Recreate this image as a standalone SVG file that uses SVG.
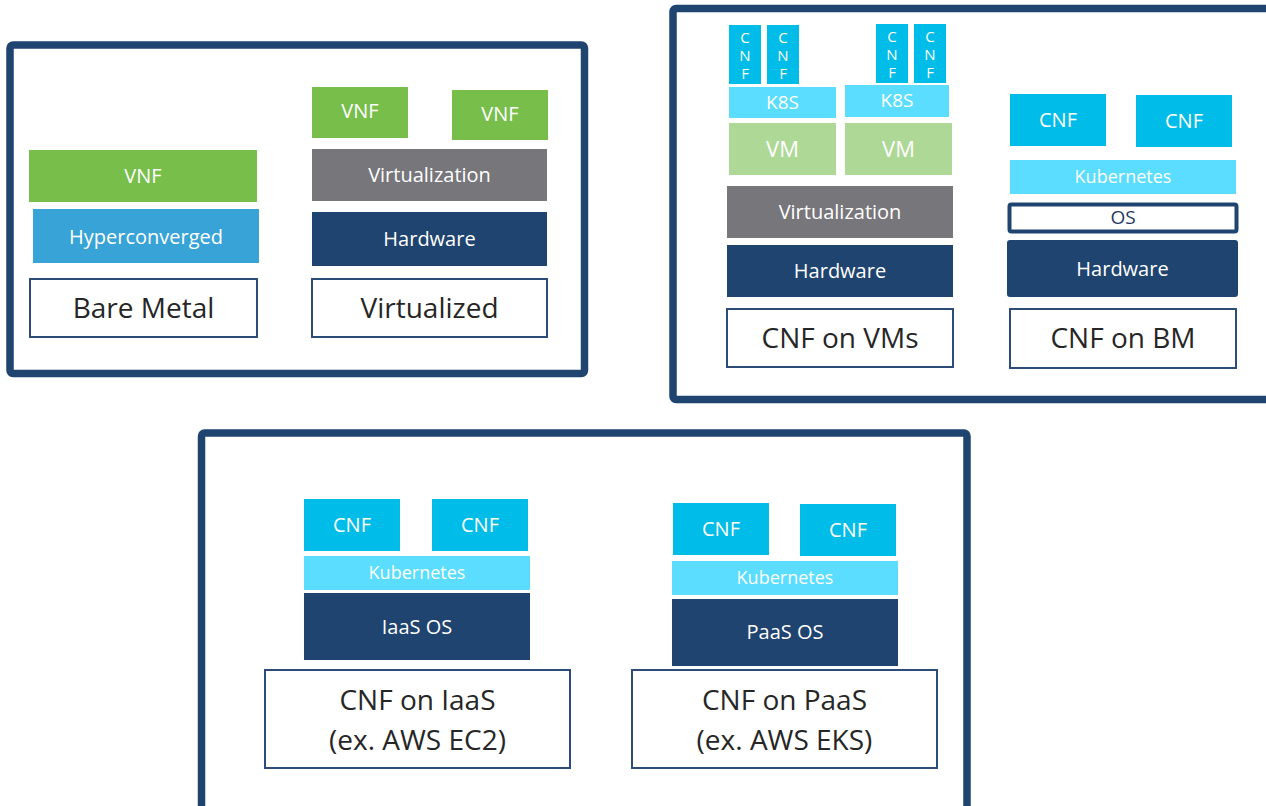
<svg xmlns="http://www.w3.org/2000/svg" width="1266" height="806" viewBox="0 0 1266 806">
<style>
.panel{fill:#fff;stroke:#1F4470;stroke-width:7.5}
.lbl{fill:#fff;stroke:#2E4C7A;stroke-width:2}
.vnf{fill:#77BE4B}
.hyp{fill:#38A3D6}
.virt{fill:#77767B}
.hw{fill:#1F4470}
.vm{fill:#AED895}
.cnf{fill:#00BCE8}
.k8s{fill:#5ADDFE}
text{font-family:"Open Sans","Liberation Sans",sans-serif;text-anchor:middle}
.w{fill:#fff;font-size:20px}
.s{fill:#fff;font-size:18px}
.t{fill:#262626;font-size:28px}
.d{fill:#1F3A5F;font-size:19px}
.c{fill:#fff;font-size:15px}
</style>
<rect width="1266" height="806" fill="#fff"/>
<rect class="panel" x="10" y="45" width="574.5" height="328.5" rx="3"/>
<rect class="panel" x="673" y="8.5" width="700" height="391" rx="3"/>
<rect class="panel" x="201.5" y="433" width="765.5" height="400" rx="3"/>

<g id="bare-metal">
<rect class="vnf" x="29" y="150" width="228" height="52"/>
<text class="w" x="143" y="183">VNF</text>
<rect class="hyp" x="33" y="209" width="226" height="54"/>
<text class="w" x="146" y="244">Hyperconverged</text>
<rect class="lbl" x="30" y="279" width="227" height="58"/>
<text class="t" x="143.5" y="318">Bare Metal</text>
</g>

<g id="virtualized">
<rect class="vnf" x="312" y="87" width="96" height="51"/>
<text class="w" x="360" y="118">VNF</text>
<rect class="vnf" x="452" y="90" width="96" height="50"/>
<text class="w" x="500" y="121">VNF</text>
<rect class="virt" x="312" y="149" width="235" height="52"/>
<text class="w" x="429.5" y="182">Virtualization</text>
<rect class="hw" x="312" y="212" width="235" height="54"/>
<text class="w" x="429.5" y="246">Hardware</text>
<rect class="lbl" x="312" y="279" width="235" height="58"/>
<text class="t" x="429.5" y="318">Virtualized</text>
</g>

<g id="cnf-on-vms">
<rect class="cnf" x="729" y="25" width="32" height="59"/>
<text class="c" x="745" y="43">C</text><text class="c" x="745" y="61">N</text><text class="c" x="745" y="79">F</text>
<rect class="cnf" x="767" y="25" width="32" height="59"/>
<text class="c" x="783" y="43">C</text><text class="c" x="783" y="61">N</text><text class="c" x="783" y="79">F</text>
<rect class="cnf" x="876" y="24" width="32" height="59"/>
<text class="c" x="892" y="42">C</text><text class="c" x="892" y="60">N</text><text class="c" x="892" y="78">F</text>
<rect class="cnf" x="914" y="24" width="32" height="59"/>
<text class="c" x="930" y="42">C</text><text class="c" x="930" y="60">N</text><text class="c" x="930" y="78">F</text>
<rect class="k8s" x="729" y="87" width="107" height="31"/>
<text class="w" x="782.5" y="109" style="font-size:19px">K8S</text>
<rect class="k8s" x="845" y="85" width="104" height="32"/>
<text class="w" x="897" y="107" style="font-size:19px">K8S</text>
<rect class="vm" x="729" y="123" width="107" height="52"/>
<text class="w" x="782.5" y="157" style="font-size:22px">VM</text>
<rect class="vm" x="845" y="123" width="107" height="52"/>
<text class="w" x="898.5" y="157" style="font-size:22px">VM</text>
<rect class="virt" x="727" y="186" width="226" height="52"/>
<text class="w" x="840" y="219">Virtualization</text>
<rect class="hw" x="727" y="245" width="226" height="52"/>
<text class="w" x="840" y="278">Hardware</text>
<rect class="lbl" x="727" y="309" width="226" height="58"/>
<text class="t" x="840" y="348">CNF on VMs</text>
</g>

<g id="cnf-on-bm">
<rect class="cnf" x="1010" y="94" width="96" height="52"/>
<text class="w" x="1058" y="127">CNF</text>
<rect class="cnf" x="1136" y="95" width="96" height="52"/>
<text class="w" x="1184" y="128">CNF</text>
<rect class="k8s" x="1010" y="160" width="226" height="34"/>
<text class="s" x="1123" y="183">Kubernetes</text>
<rect x="1009.5" y="204.5" width="227" height="27" rx="2" fill="#fff" stroke="#1F4470" stroke-width="4"/>
<text class="d" x="1123" y="224">OS</text>
<rect class="hw" x="1007" y="240" width="231" height="57" rx="3"/>
<text class="w" x="1122.5" y="276">Hardware</text>
<rect class="lbl" x="1010" y="309" width="226" height="59"/>
<text class="t" x="1123" y="348">CNF on BM</text>
</g>

<g id="cnf-on-iaas">
<rect class="cnf" x="304" y="499" width="96" height="52"/>
<text class="w" x="352" y="532">CNF</text>
<rect class="cnf" x="432" y="499" width="96" height="52"/>
<text class="w" x="480" y="532">CNF</text>
<rect class="k8s" x="304" y="556" width="226" height="34"/>
<text class="s" x="417" y="579">Kubernetes</text>
<rect class="hw" x="304" y="593" width="226" height="67"/>
<text class="w" x="417" y="634">IaaS OS</text>
<rect class="lbl" x="265" y="670" width="305" height="98"/>
<text class="t" x="417.5" y="710">CNF on IaaS</text>
<text class="t" x="417.5" y="750">(ex. AWS EC2)</text>
</g>

<g id="cnf-on-paas">
<rect class="cnf" x="673" y="503" width="96" height="52"/>
<text class="w" x="721" y="536">CNF</text>
<rect class="cnf" x="800" y="504" width="96" height="52"/>
<text class="w" x="848" y="537">CNF</text>
<rect class="k8s" x="672" y="561" width="226" height="34"/>
<text class="s" x="785" y="584">Kubernetes</text>
<rect class="hw" x="672" y="599" width="226" height="67"/>
<text class="w" x="785" y="639">PaaS OS</text>
<rect class="lbl" x="632" y="670" width="305" height="98"/>
<text class="t" x="784.5" y="710">CNF on PaaS</text>
<text class="t" x="784.5" y="750">(ex. AWS EKS)</text>
</g>

<g id="connectors"/>
</svg>
